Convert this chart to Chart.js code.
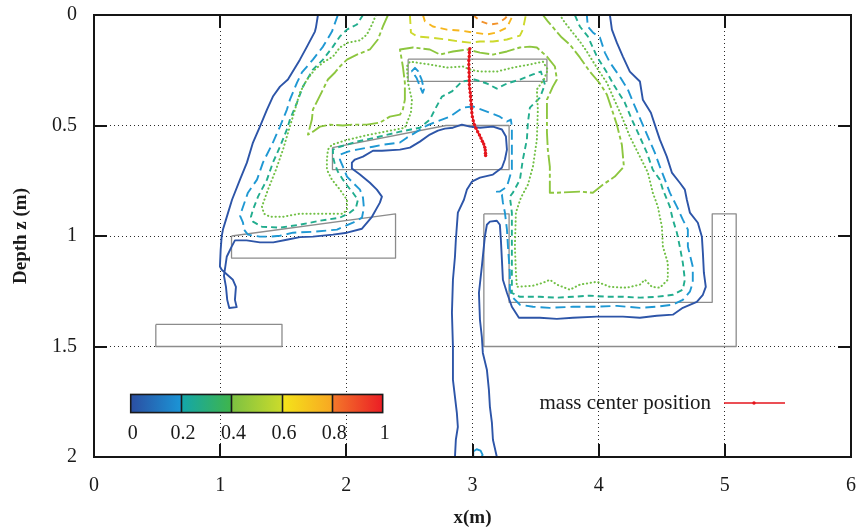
<!DOCTYPE html>
<html><head><meta charset="utf-8">
<script src="https://cdn.jsdelivr.net/npm/chart.js@4.4.1/dist/chart.umd.min.js"></script>
<style>html,body{margin:0;padding:0;background:#fff;}canvas{display:block;}</style>
</head><body>
<canvas id="c" width="861" height="531" style="width:861px;height:531px"></canvas>
<script>
// ---- axis ticks ----
const xTickValues = [0, 1, 2, 3, 4, 5, 6];
const yTickValues = [0, 0.5, 1, 1.5, 2];
const yTickLabels = ['0', '0.5', '1', '1.5', '2'];
const colorbarTicks = [0, 0.2, 0.4, 0.6, 0.8, 1];
const colorbarLabels = ['0', '0.2', '0.4', '0.6', '0.8', '1'];

// ---- contour lines (x in m, depth z in m) ----
const blueOuter = [[1.775,0],[1.759,0.057],[1.751,0.075],[1.688,0.143],[1.632,0.202],[1.537,0.292],[1.474,0.324],[1.418,0.369],[1.371,0.428],[1.315,0.505],[1.260,0.577],[1.212,0.668],[1.157,0.745],[1.094,0.836],[1.046,0.926],[1.022,0.971],[1.012,1.002],[1.004,1.062],[0.998,1.138],[1.012,1.153],[1.101,1.198],[1.125,1.230],[1.117,1.289],[1.131,1.322],[1.072,1.326],[1.056,1.289],[1.046,1.230],[1.030,1.180],[1.052,1.094],[1.091,1.048],[1.117,1.020],[1.210,1.020],[1.315,1.029],[1.421,1.029],[1.527,1.017],[1.632,1.005],[1.735,1.003],[1.894,0.994],[2.005,0.985],[2.124,0.967],[2.203,0.913],[2.266,0.849],[2.282,0.822],[2.242,0.790],[2.187,0.759],[2.108,0.722],[2.044,0.695],[2.044,0.668],[2.068,0.654],[2.132,0.641],[2.211,0.614],[2.282,0.614],[2.425,0.609],[2.504,0.600],[2.583,0.573],[2.662,0.541],[2.726,0.523],[2.781,0.514],[2.845,0.510],[2.916,0.496],[2.979,0.505],[3.059,0.510],[3.162,0.505],[3.233,0.518],[3.265,0.550],[3.273,0.609],[3.257,0.654],[3.233,0.691],[3.162,0.722],[3.059,0.736],[2.995,0.754],[2.956,0.790],[2.932,0.836],[2.884,0.894],[2.868,1.017],[2.861,1.094],[2.845,1.198],[2.837,1.347],[2.845,1.501],[2.845,1.651],[2.876,1.800],[2.884,1.864],[2.868,1.922],[2.861,2.0]];
const blueInner = [[3.193,2.0],[3.162,1.922],[3.154,1.846],[3.138,1.773],[3.130,1.696],[3.114,1.605],[3.082,1.529],[3.074,1.456],[3.059,1.379],[3.051,1.257],[3.074,1.139],[3.098,1.003],[3.114,0.949],[3.138,0.935],[3.193,0.931],[3.217,0.949],[3.225,1.017],[3.233,1.107],[3.241,1.198],[3.273,1.257],[3.312,1.320],[3.368,1.370],[3.534,1.370],[3.669,1.375],[3.796,1.370],[3.986,1.365],[4.192,1.365],[4.327,1.370],[4.461,1.361],[4.588,1.356],[4.667,1.325],[4.778,1.298],[4.826,1.266],[4.849,1.230],[4.834,1.166],[4.826,1.076],[4.818,1.003],[4.786,0.940],[4.723,0.894],[4.699,0.836],[4.683,0.790],[4.643,0.759],[4.580,0.713],[4.540,0.641],[4.485,0.564],[4.445,0.496],[4.414,0.442],[4.350,0.383],[4.327,0.301],[4.247,0.256],[4.192,0.188],[4.144,0.125],[4.105,0.066],[4.089,0]];
const cyanMain = [[1.933,0],[1.886,0.075],[1.815,0.143],[1.735,0.202],[1.648,0.260],[1.609,0.306],[1.553,0.383],[1.529,0.428],[1.474,0.505],[1.418,0.577],[1.339,0.668],[1.292,0.745],[1.220,0.804],[1.173,0.881],[1.157,0.908],[1.181,0.940],[1.189,0.971],[1.220,0.994],[1.315,1.003],[1.395,1.003],[1.474,0.999],[1.577,0.985],[1.735,0.981],[1.926,0.971],[2.052,0.940],[2.124,0.917],[2.139,0.872],[2.132,0.826],[2.108,0.790],[2.052,0.759],[2.005,0.731],[1.973,0.686],[1.949,0.654],[1.949,0.632],[2.013,0.618],[2.084,0.609],[2.211,0.596],[2.290,0.587],[2.425,0.577],[2.480,0.555],[2.559,0.528],[2.639,0.500],[2.718,0.482],[2.821,0.460],[2.924,0.419],[3.003,0.414],[3.114,0.437],[3.217,0.460],[3.273,0.482],[3.304,0.473],[3.312,0.505],[3.312,0.577],[3.312,0.654],[3.312,0.700],[3.273,0.777],[3.217,0.799],[3.193,0.799],[3.233,0.813],[3.241,0.849],[3.257,0.894],[3.273,0.971],[3.281,1.048],[3.296,1.166],[3.296,1.243],[3.320,1.279],[3.376,1.311],[3.479,1.320],[3.613,1.325],[3.796,1.320],[3.986,1.320],[4.144,1.316],[4.327,1.325],[4.461,1.320],[4.588,1.311],[4.667,1.289],[4.723,1.252],[4.746,1.211],[4.746,1.139],[4.707,1.048],[4.707,0.971],[4.667,0.926],[4.620,0.867],[4.564,0.804],[4.525,0.745],[4.485,0.686],[4.445,0.623],[4.390,0.550],[4.342,0.487],[4.271,0.392],[4.231,0.337],[4.168,0.279],[4.089,0.215],[4.049,0.170],[4.010,0.102],[3.954,0.079],[3.914,0.052],[3.906,0]];
const cyanLoop = [[2.517,0.255],[2.544,0.239],[2.570,0.255],[2.597,0.292],[2.615,0.337],[2.605,0.352],[2.583,0.322],[2.557,0.285],[2.530,0.262],[2.517,0.255]];
const cyanFloor = [[3.006,2.0],[3.006,1.975],[3.033,1.965],[3.064,1.971],[3.080,1.990],[3.072,2.0]];
const tealMain = [[2.132,0],[2.084,0.043],[2.005,0.066],[1.949,0.097],[1.894,0.143],[1.815,0.202],[1.735,0.247],[1.656,0.324],[1.609,0.396],[1.553,0.473],[1.529,0.518],[1.474,0.596],[1.418,0.668],[1.371,0.745],[1.300,0.822],[1.260,0.881],[1.244,0.913],[1.260,0.935],[1.331,0.958],[1.474,0.962],[1.632,0.949],[1.791,0.931],[1.949,0.917],[2.029,0.894],[2.076,0.872],[2.092,0.836],[2.052,0.804],[2.013,0.777],[1.973,0.745],[1.933,0.709],[1.910,0.677],[1.894,0.641],[1.894,0.609],[1.949,0.596],[2.084,0.573],[2.266,0.550],[2.425,0.528],[2.583,0.510],[2.662,0.473],[2.710,0.419],[2.758,0.369],[2.837,0.346],[2.916,0.301],[3.019,0.292],[3.114,0.310],[3.193,0.333],[3.273,0.310],[3.376,0.292],[3.479,0.269],[3.542,0.256],[3.574,0.315],[3.534,0.374],[3.455,0.419],[3.439,0.487],[3.431,0.564],[3.399,0.654],[3.376,0.745],[3.320,0.804],[3.296,0.822],[3.312,0.894],[3.312,1.048],[3.312,1.257],[3.376,1.275],[3.534,1.275],[3.669,1.279],[3.796,1.275],[3.930,1.270],[4.065,1.275],[4.192,1.275],[4.327,1.279],[4.461,1.275],[4.588,1.266],[4.667,1.243],[4.683,1.198],[4.667,1.121],[4.643,1.048],[4.620,0.985],[4.588,0.926],[4.564,0.867],[4.509,0.790],[4.485,0.745],[4.429,0.700],[4.382,0.623],[4.311,0.532],[4.263,0.473],[4.207,0.396],[4.128,0.324],[4.065,0.260],[3.986,0.188],[3.914,0.097],[3.851,0.052],[3.811,0]];
const greenDotted = [[2.235,0],[2.203,0.043],[2.163,0.088],[2.108,0.115],[2.013,0.125],[1.949,0.147],[1.894,0.188],[1.815,0.215],[1.751,0.247],[1.688,0.292],[1.632,0.351],[1.593,0.428],[1.545,0.519],[1.498,0.609],[1.442,0.700],[1.379,0.790],[1.331,0.867],[1.347,0.899],[1.395,0.913],[1.498,0.913],[1.632,0.899],[1.767,0.899],[1.894,0.899],[1.973,0.899],[2.005,0.881],[2.005,0.836],[1.949,0.790],[1.886,0.745],[1.846,0.700],[1.846,0.654],[1.854,0.609],[1.886,0.587],[1.989,0.568],[2.147,0.546],[2.306,0.528],[2.464,0.510],[2.512,0.442],[2.520,0.383],[2.488,0.306],[2.480,0.233],[2.504,0.211],[2.662,0.224],[2.797,0.238],[2.924,0.233],[2.979,0.247],[3.059,0.256],[3.193,0.256],[3.320,0.238],[3.455,0.224],[3.558,0.211],[3.597,0.247],[3.566,0.292],[3.510,0.337],[3.518,0.428],[3.510,0.564],[3.479,0.686],[3.439,0.768],[3.384,0.826],[3.344,0.894],[3.336,1.048],[3.344,1.166],[3.352,1.230],[3.479,1.225],[3.558,1.212],[3.613,1.198],[3.669,1.220],[3.772,1.243],[3.851,1.220],[3.986,1.207],[4.089,1.230],[4.223,1.234],[4.327,1.220],[4.366,1.198],[4.422,1.230],[4.485,1.234],[4.548,1.198],[4.548,1.121],[4.509,1.048],[4.501,0.958],[4.469,0.867],[4.429,0.804],[4.390,0.713],[4.327,0.641],[4.247,0.550],[4.184,0.460],[4.113,0.369],[4.065,0.306],[4.010,0.260],[3.946,0.202],[3.906,0.165],[3.851,0.120],[3.788,0.075],[3.732,0.034],[3.693,0]];
const limeMain = [[2.330,0],[2.290,0.052],[2.250,0.111],[2.187,0.156],[2.084,0.179],[2.005,0.202],[1.949,0.233],[1.910,0.260],[1.854,0.292],[1.815,0.337],[1.775,0.383],[1.735,0.428],[1.727,0.473],[1.696,0.541],[1.735,0.528],[1.791,0.505],[1.870,0.496],[1.973,0.500],[2.052,0.496],[2.163,0.496],[2.266,0.487],[2.345,0.460],[2.425,0.451],[2.448,0.428],[2.464,0.383],[2.464,0.306],[2.448,0.233],[2.425,0.156],[2.528,0.147],[2.662,0.156],[2.742,0.179],[2.845,0.165],[2.956,0.156],[3.059,0.170],[3.162,0.179],[3.273,0.165],[3.376,0.147],[3.455,0.143],[3.510,0.147],[3.590,0.188],[3.653,0.233],[3.669,0.292],[3.637,0.324],[3.590,0.383],[3.590,0.460],[3.590,0.532],[3.597,0.609],[3.613,0.686],[3.613,0.804],[3.669,0.804],[3.851,0.799],[3.954,0.804],[4.033,0.768],[4.128,0.731],[4.200,0.686],[4.184,0.587],[4.144,0.496],[4.105,0.428],[4.065,0.360],[4.010,0.310],[3.930,0.256],[3.851,0.192],[3.772,0.134],[3.708,0.102],[3.653,0.066],[3.597,0.029],[3.558,0]];
const yellowTop = [[2.504,0],[2.512,0.079],[2.559,0.097],[2.662,0.102],[2.797,0.111],[2.900,0.120],[2.979,0.125],[3.059,0.120],[3.162,0.120],[3.273,0.111],[3.376,0.093],[3.399,0.066],[3.423,0]];
const amberTop = [[2.607,0],[2.623,0.029],[2.686,0.052],[2.797,0.066],[2.900,0.070],[3.003,0.079],[3.114,0.088],[3.193,0.079],[3.273,0.057],[3.304,0.020],[3.320,0]];
const orangeTop = [[3.003,0],[3.067,0.029],[3.138,0.043],[3.201,0.038],[3.257,0.016],[3.281,0]];

// ---- mass center trajectory ----
const massCenterX = [2.979,2.975,2.974,2.971,2.971,2.971,2.973,2.974,2.974,2.975,2.979,2.982,2.985,2.987,2.990,2.993,2.995,2.999,3.006,3.015,3.027,3.041,3.055,3.067,3.078,3.089,3.097,3.101,3.103,3.104];
const massCenterZ = [0.152,0.170,0.188,0.206,0.224,0.242,0.260,0.279,0.297,0.315,0.333,0.351,0.369,0.387,0.405,0.423,0.442,0.460,0.478,0.496,0.512,0.528,0.543,0.557,0.571,0.584,0.598,0.611,0.625,0.636];

// ---- obstacles ----
const obstacleTop = [[2.49,0.2],[3.59,0.2],[3.59,0.3],[2.49,0.3],[2.49,0.2]];
const obstacleMid = [[1.89,0.6],[2.79,0.5],[3.29,0.5],[3.29,0.7],[1.89,0.7],[1.89,0.6]];
const obstacleLeft = [[1.09,1.0],[2.39,0.9],[2.39,1.1],[1.09,1.1],[1.09,1.0]];
const obstacleLow = [[0.49,1.4],[1.49,1.4],[1.49,1.5],[0.49,1.5],[0.49,1.4]];
const obstacleU = [[3.09,0.9],[3.29,0.9],[3.29,1.3],[4.9,1.3],[4.9,0.9],[5.09,0.9],[5.09,1.5],[3.09,1.5],[3.09,0.9]];

// ---- styles ----
const SERIF = '"Liberation Serif", "DejaVu Serif", "Times New Roman", serif';
const TXT = '#1a1a1a';
const RED = '#e4151c';
const colorbarStops = [['#2b4ea2','#1b95d6'],['#13a6ab','#3fb54b'],['#7cc142','#cbdb2b'],['#f4e51a','#f8a722'],['#f3792a','#eb1d25']];
const CB = {x0: 0.291, x1: 2.288, z0: 1.717, z1: 1.799};

const pts = a => a.map(p => ({x: p[0], y: p[1]}));
function line(arr, color, dash, width, cap) {
  return {data: pts(arr), showLine: true, borderColor: color, borderWidth: width || 1.9,
    borderDash: dash || [], borderCapStyle: cap || 'butt', borderJoinStyle: 'round',
    pointRadius: 0, pointHoverRadius: 0, fill: false, tension: 0};
}

const datasets = [
  {data: massCenterX.map((v, i) => ({x: v, y: massCenterZ[i]})), showLine: true, borderColor: RED,
   borderWidth: 1.6, pointRadius: 1.7, pointBackgroundColor: RED, pointBorderWidth: 0, fill: false},
  line(orangeTop, '#f2922a', [6,5]),
  line(amberTop, '#f6b61e', [7,5]),
  line(yellowTop, '#cdd92d', [9,5]),
  line(limeMain, '#8dc63f', [16,3,4,3]),
  line(greenDotted, '#72c046', [0.3,3.6], 2, 'round'),
  line(tealMain, '#22ad8e', [6,4]),
  line(cyanMain, '#1f98d3', [10,5]),
  line(cyanLoop, '#1f98d3', [10,4]),
  line(cyanFloor, '#1f98d3', []),
  line(blueOuter, '#2d55a8', []),
  line(blueInner, '#2d55a8', []),
  line(obstacleTop, '#8c8c8c', [], 1.3),
  line(obstacleMid, '#8c8c8c', [], 1.3),
  line(obstacleLeft, '#8c8c8c', [], 1.3),
  line(obstacleLow, '#8c8c8c', [], 1.3),
  line(obstacleU, '#8c8c8c', [], 1.3)
];

const overlay = {
  id: 'overlay',
  afterDraw(chart) {
    const {ctx, chartArea: a, scales: {x, y}} = chart;
    ctx.save();
    ctx.setLineDash([]);
    ctx.strokeStyle = '#151515';
    ctx.lineWidth = 2;
    ctx.strokeRect(a.left, a.top, a.right - a.left, a.bottom - a.top);
    ctx.beginPath();
    xTickValues.forEach(v => {
      const px = Math.round(x.getPixelForValue(v));
      ctx.moveTo(px, a.top); ctx.lineTo(px, a.top + 13);
      ctx.moveTo(px, a.bottom); ctx.lineTo(px, a.bottom - 13);
    });
    yTickValues.forEach(v => {
      const py = Math.round(y.getPixelForValue(v));
      ctx.moveTo(a.left, py); ctx.lineTo(a.left + 13, py);
      ctx.moveTo(a.right, py); ctx.lineTo(a.right - 13, py);
    });
    ctx.stroke();
    // colour bar
    const cx0 = x.getPixelForValue(CB.x0), cx1 = x.getPixelForValue(CB.x1);
    const cy0 = y.getPixelForValue(CB.z0), cy1 = y.getPixelForValue(CB.z1);
    const n = colorbarTicks.length - 1;
    const seg = (cx1 - cx0) / n;
    for (let i = 0; i < n; i++) {
      const sx = cx0 + i * seg;
      const g = ctx.createLinearGradient(sx, 0, sx + seg, 0);
      g.addColorStop(0, colorbarStops[i][0]);
      g.addColorStop(1, colorbarStops[i][1]);
      ctx.fillStyle = g;
      ctx.fillRect(sx, cy0, seg, cy1 - cy0);
    }
    ctx.strokeStyle = '#1a1a1a';
    ctx.lineWidth = 1.6;
    ctx.strokeRect(cx0, cy0, cx1 - cx0, cy1 - cy0);
    ctx.beginPath();
    for (let i = 1; i < n; i++) {
      const sx = Math.round(cx0 + i * seg) + 0.5;
      ctx.moveTo(sx, cy0); ctx.lineTo(sx, cy1);
    }
    ctx.stroke();
    ctx.fillStyle = TXT;
    ctx.font = '20px ' + SERIF;
    ctx.textAlign = 'center';
    ctx.textBaseline = 'middle';
    colorbarTicks.forEach((t, i) => {
      ctx.fillText(colorbarLabels[i], cx0 + (cx1 - cx0) * t + 2, cy1 + 21);
    });
    // legend
    const ly = Math.round(a.top + 388);
    ctx.font = '21px ' + SERIF;
    ctx.textAlign = 'right';
    ctx.fillText('mass center position', a.left + 617, ly);
    ctx.strokeStyle = RED;
    ctx.lineWidth = 1.4;
    ctx.beginPath();
    ctx.moveTo(a.left + 630, ly); ctx.lineTo(a.left + 691, ly);
    ctx.stroke();
    ctx.fillStyle = RED;
    ctx.beginPath();
    ctx.arc(a.left + 660, ly, 1.7, 0, Math.PI * 2);
    ctx.fill();
    ctx.restore();
  }
};

new Chart(document.getElementById('c'), {
  type: 'scatter',
  data: {datasets},
  options: {
    responsive: false,
    animation: false,
    devicePixelRatio: 1,
    layout: {padding: {left: 0, right: 10, top: 15, bottom: 0}},
    plugins: {legend: {display: false}, tooltip: {enabled: false}},
    scales: {
      x: {
        type: 'linear', min: 0, max: 6, position: 'bottom',
        afterBuildTicks: s => { s.ticks = xTickValues.map(v => ({value: v})); },
        ticks: {font: {family: SERIF, size: 20}, color: TXT, padding: 17, maxRotation: 0,
                callback: v => String(v)},
        grid: {color: '#2a2a2a', lineWidth: 1, drawTicks: false},
        border: {display: false, dash: [1, 3]},
        title: {display: true, text: 'x(m)', color: TXT, font: {family: SERIF, size: 19, weight: 'bold'},
                padding: {top: 0, bottom: 2}},
        afterFit: s => { s.height = 74; s.paddingLeft = 0; s.paddingRight = 0; s.paddingTop = 0; s.paddingBottom = 0; }
      },
      y: {
        type: 'linear', min: 0, max: 2, reverse: true,
        afterBuildTicks: s => { s.ticks = yTickValues.map(v => ({value: v})); },
        ticks: {font: {family: SERIF, size: 20}, color: TXT, padding: 17,
                callback: (v, i) => yTickLabels[yTickValues.indexOf(v)]},
        grid: {color: '#2a2a2a', lineWidth: 1, drawTicks: false},
        border: {display: false, dash: [1, 3]},
        title: {display: true, text: 'Depth z (m)', color: TXT, font: {family: SERIF, size: 19, weight: 'bold'},
                padding: {top: 10, bottom: 0}},
        afterFit: s => { s.width = 94; s.paddingLeft = 0; s.paddingRight = 0; s.paddingTop = 0; s.paddingBottom = 0; }
      }
    }
  },
  plugins: [overlay]
});
</script>
</body></html>
